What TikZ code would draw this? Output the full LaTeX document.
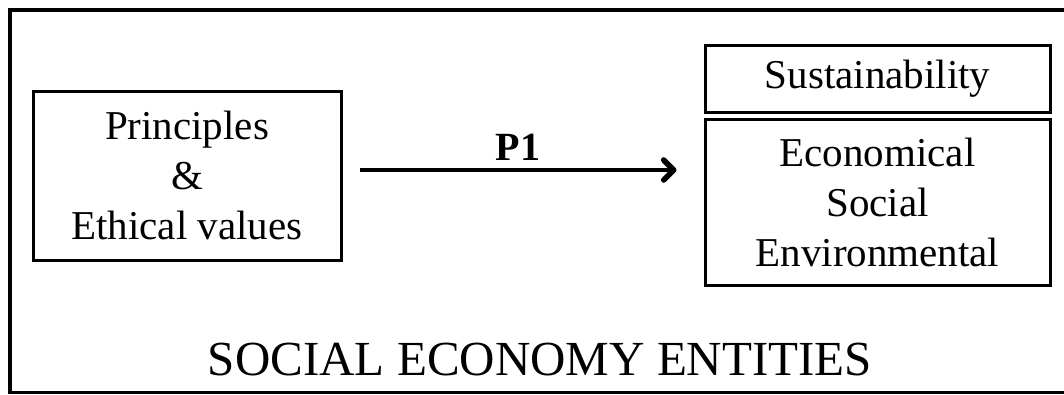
\documentclass[tikz,border=0pt]{standalone}
\usepackage{fontspec}
\setmainfont{Liberation Serif}
\usetikzlibrary{positioning,arrows.meta}

\begin{document}
\begin{tikzpicture}[
  x=1pt, y=-1pt,
  box/.style={draw, line width=3pt, inner sep=0pt, align=center, font=\fontsize{41}{50}\selectfont},
  frame/.style={draw, line width=3.5pt},
  arr/.style={-{Straight Barb[length=10pt,width=20pt,line width=0pt 1.4,round]}, line width=4pt},
  lbl/.style={above=8pt, inner sep=0pt, font=\fontsize{40}{48}\selectfont\bfseries},
]
\useasboundingbox (0,0) rectangle (1064,394);
\draw[frame] (10,10) rectangle (1090,392.5);

\node[box, minimum width=308pt, minimum height=169pt] (prin) at (187,175.5) {Principles\\\&\\Ethical values};
\node[box, minimum width=345pt, minimum height=67pt] (sust) at (877.5,78.5) {Sustainability};
\node[box, minimum width=345pt, minimum height=166pt, below=4pt of sust] (dims) {Economical\\Social\\Environmental};

\coordinate (p1s) at ([xshift=17pt,yshift=5.5pt]prin.east);
\path (p1s -| dims.west) ++(-27pt,0) coordinate (p1e);
\draw[arr] (p1s) -- node[lbl] {P1} (p1e);

\node[font=\fontsize{49}{58}\selectfont, inner sep=0pt, anchor=base] (ent) at (540,375) {SOCIAL ECONOMY ENTITIES};
\end{tikzpicture}
\end{document}
